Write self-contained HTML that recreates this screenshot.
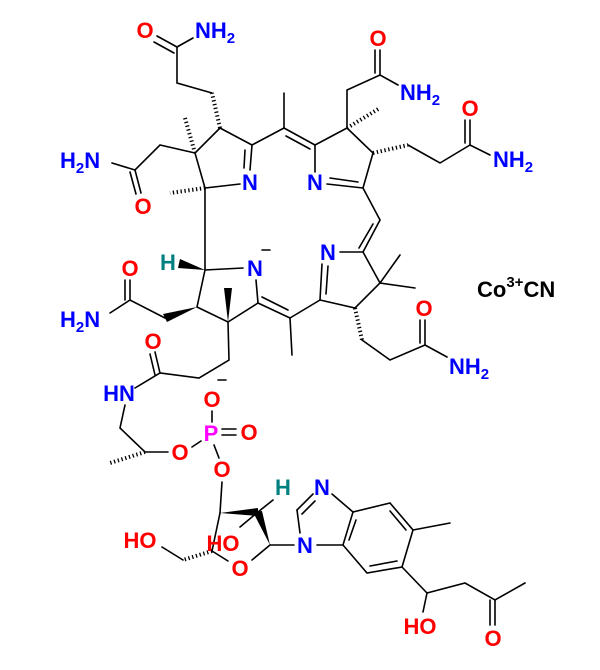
<!DOCTYPE html>
<html><head><meta charset="utf-8"><style>
html,body{margin:0;padding:0;background:#fff;width:600px;height:670px;overflow:hidden}
svg{display:block}
text{font-family:"Liberation Sans",Arial,sans-serif;font-weight:bold;font-size:22px}
.r{fill:#f00}.b{fill:#00f}.t{fill:#008080}.m{fill:#f0f}.k{fill:#000}
</style></head><body>
<svg width="600" height="670" viewBox="0 0 600 670" xmlns="http://www.w3.org/2000/svg">
<g stroke="#000" stroke-width="1.6" fill="none" stroke-linecap="round">
<line x1="157" y1="36" x2="177" y2="47"/><line x1="154" y1="42" x2="174" y2="53"/>
<line x1="177" y1="47" x2="193" y2="38"/>
<polyline points="177,47 177,83 212,93"/>
<polyline points="220,128 252,145 250,170"/><line x1="245" y1="150" x2="244" y2="168"/>
<polyline points="240,184 205,188 195,153 220,128"/>
<polyline points="195,153 160,145 135,170 112,163"/>
<line x1="135" y1="170" x2="141" y2="193"/><line x1="130" y1="172" x2="136" y2="194"/>
<line x1="205" y1="188" x2="205" y2="270"/>
<line x1="252" y1="145" x2="284" y2="128"/><line x1="284" y1="128" x2="284" y2="93"/>
<line x1="284" y1="128" x2="315" y2="145"/><line x1="286" y1="136" x2="310" y2="149"/>
<polyline points="315,172 315,145 347,128 373,153 363,188"/>
<line x1="327" y1="184" x2="363" y2="188"/><line x1="330" y1="178" x2="358" y2="182"/>
<polyline points="347,128 347,90 380,75 398,85"/>
<line x1="380" y1="75" x2="380" y2="50"/><line x1="375" y1="73" x2="375" y2="50"/>
<polyline points="408,145 440,163 470,145 490,155"/>
<line x1="470" y1="145" x2="470" y2="120"/><line x1="465" y1="143" x2="465" y2="120"/>
<line x1="363" y1="188" x2="380" y2="220"/>
<line x1="380" y1="220" x2="363" y2="252"/><line x1="373" y1="224" x2="359" y2="248"/>
<line x1="363" y1="252" x2="340" y2="252"/>
<polyline points="363,252 380,283 355,308 320,300"/>
<line x1="320" y1="300" x2="322" y2="264"/><line x1="326" y1="294" x2="328" y2="266"/>
<line x1="380" y1="283" x2="400" y2="255"/><line x1="380" y1="283" x2="415" y2="288"/>
<polyline points="362,340 390,360 425,345 447,357"/>
<line x1="425" y1="345" x2="425" y2="320"/><line x1="420" y1="343" x2="420" y2="320"/>
<line x1="320" y1="300" x2="290" y2="318"/><line x1="290" y1="318" x2="292" y2="355"/>
<line x1="290" y1="318" x2="258" y2="303"/><line x1="288" y1="310" x2="262" y2="297"/>
<line x1="258" y1="303" x2="256" y2="280"/>
<polyline points="243,268 205,270 197,307 228,322 258,303"/>
<polyline points="228,322 229,360 199,378 160,373 135,388"/>
<line x1="160" y1="373" x2="155" y2="352"/><line x1="155" y1="375" x2="150" y2="354"/>
<polyline points="165,318 130,300 110,313"/>
<line x1="130" y1="300" x2="130" y2="280"/><line x1="125" y1="300" x2="125" y2="280"/>
<polyline points="125,405 120,428 145,452 168,452"/>
<line x1="192" y1="447" x2="201" y2="441"/>
<line x1="212" y1="422" x2="212" y2="411"/>
<line x1="222" y1="429" x2="236" y2="429"/><line x1="222" y1="435" x2="236" y2="435"/>
<line x1="214" y1="445" x2="219" y2="458"/>
<line x1="222" y1="482" x2="220" y2="513"/>
<line x1="258" y1="512" x2="273" y2="500"/>
<line x1="258" y1="512" x2="240" y2="527"/>
<line x1="270" y1="545" x2="252" y2="560"/>
<line x1="228" y1="561" x2="212" y2="551"/>
<line x1="212" y1="551" x2="220" y2="513"/>
<line x1="183" y1="560" x2="162" y2="547"/>
<line x1="270" y1="545" x2="294" y2="545"/>
<line x1="300" y1="533" x2="297" y2="510"/>
<line x1="297" y1="510" x2="313" y2="494"/><line x1="302" y1="514" x2="315" y2="501"/>
<polyline points="332,494 353,512 343,545 317,545"/>
<polyline points="353,512 390,503 413,530 402,567 367,573 343,545"/>
<line x1="356" y1="520" x2="349" y2="540"/>
<line x1="390" y1="511" x2="406" y2="530"/>
<line x1="397" y1="561" x2="370" y2="566"/>
<line x1="413" y1="530" x2="450" y2="523"/>
<polyline points="402,567 427,593 465,583 495,600 525,583"/>
<line x1="427" y1="593" x2="423" y2="612"/>
<line x1="495" y1="600" x2="495" y2="625"/><line x1="490" y1="600" x2="490" y2="625"/>
<!-- minus signs -->
<line x1="262" y1="250" x2="270" y2="250"/>
<line x1="218" y1="380" x2="226" y2="380"/>
</g>
<g stroke="#000" stroke-width="4" stroke-dasharray="1.3 2.6" fill="none">
<line x1="220" y1="128" x2="212" y2="93"/>
<line x1="195" y1="153" x2="185" y2="118"/>
<line x1="205" y1="188" x2="170" y2="193"/>
<line x1="347" y1="128" x2="380" y2="108"/>
<line x1="373" y1="153" x2="408" y2="145"/>
<line x1="355" y1="308" x2="362" y2="340"/>
<line x1="145" y1="452" x2="110" y2="463"/>
<line x1="212" y1="551" x2="183" y2="560"/>
</g>
<g fill="#000">
<polygon points="205,270 180,259 178,268"/>
<polygon points="228,322 224,288 232,288"/>
<polygon points="197,307 163,314 167,322"/>
<polygon points="220,513 258,508 258,516"/>
<polygon points="270,545 253,512 262,511"/>
</g>
<g>
<text class="r" x="145" y="38" text-anchor="middle">O</text>
<text class="b" x="195" y="38">NH<tspan font-size="15" dy="5">2</tspan></text>
<text class="b" x="60" y="168">H<tspan font-size="15" dy="5">2</tspan><tspan dy="-5">N</tspan></text>
<text class="r" x="143" y="214" text-anchor="middle">O</text>
<text class="b" x="250" y="190" text-anchor="middle">N</text>
<text class="b" x="315" y="190" text-anchor="middle">N</text>
<text class="r" x="378" y="46" text-anchor="middle">O</text>
<text class="b" x="400" y="100">NH<tspan font-size="15" dy="5">2</tspan></text>
<text class="r" x="470" y="116" text-anchor="middle">O</text>
<text class="b" x="493" y="167">NH<tspan font-size="15" dy="5">2</tspan></text>
<text class="b" x="328" y="260" text-anchor="middle">N</text>
<text class="b" x="255" y="276" text-anchor="middle">N</text>
<text class="t" x="168" y="270" text-anchor="middle">H</text>
<text class="r" x="130" y="276" text-anchor="middle">O</text>
<text class="b" x="60" y="327">H<tspan font-size="15" dy="5">2</tspan><tspan dy="-5">N</tspan></text>
<text class="r" x="424" y="316" text-anchor="middle">O</text>
<text class="b" x="449" y="374">NH<tspan font-size="15" dy="5">2</tspan></text>
<text class="k" x="477" y="297" font-size="23">Co<tspan font-size="15" dy="-10">3+</tspan><tspan dy="10">CN</tspan></text>
<text class="r" x="153" y="349" text-anchor="middle">O</text>
<text class="b" x="119" y="401" text-anchor="middle">HN</text>
<text class="r" x="212" y="407" text-anchor="middle">O</text>
<text class="m" x="211" y="441" text-anchor="middle">P</text>
<text class="r" x="249" y="440" text-anchor="middle">O</text>
<text class="r" x="180" y="460" text-anchor="middle">O</text>
<text class="r" x="222" y="477" text-anchor="middle">O</text>
<text class="t" x="283" y="495" text-anchor="middle">H</text>
<text class="r" x="223" y="551" text-anchor="middle">HO</text>
<text class="r" x="140" y="548" text-anchor="middle">HO</text>
<text class="r" x="240" y="576" text-anchor="middle">O</text>
<text class="b" x="305" y="553" text-anchor="middle">N</text>
<text class="b" x="322" y="495" text-anchor="middle">N</text>
<text class="r" x="420" y="634" text-anchor="middle">HO</text>
<text class="r" x="493" y="646" text-anchor="middle">O</text>
</g>
</svg>
</body></html>
